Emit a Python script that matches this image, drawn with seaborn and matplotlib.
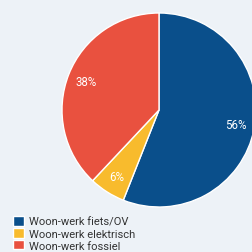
import matplotlib
matplotlib.use("Agg")
import matplotlib.pyplot as plt
import seaborn as sns

# data
labels = ["Woon-werk fiets/OV", "Woon-werk elektrisch", "Woon-werk fossiel"]
shares = [56, 6, 38]
colors = ["#0a4f8b", "#f8bb2d", "#e9513f"]
bg = "#edf2f7"

sns.set_style("white", {"axes.facecolor": bg, "figure.facecolor": bg})
plt.rcParams["font.family"] = ["Roboto", "DejaVu Sans"]

fig = plt.figure(figsize=(2.52, 2.53), dpi=100)
ax = fig.add_axes([62 / 252, 45 / 253, 194 / 252, 194 / 253])

wedges, texts, autotexts = ax.pie(
    shares, colors=colors, startangle=90, counterclock=False,
    autopct="%d%%", pctdistance=0.81,
    textprops={"color": "white", "fontsize": 8.3},
)
ax.set_xlim(-1, 1)
ax.set_ylim(-1, 1)
ax.set_aspect("equal")

fig.legend(wedges, labels, loc="upper left",
           bbox_to_anchor=(13 / 252, 1 - 217 / 253),
           frameon=False, fontsize=8, handlelength=0.95, handleheight=0.95,
           handletextpad=0.45, labelspacing=0.12, borderpad=0, borderaxespad=0,
           labelcolor="#333333")

fig.savefig("out.png", dpi=100, facecolor=bg)
